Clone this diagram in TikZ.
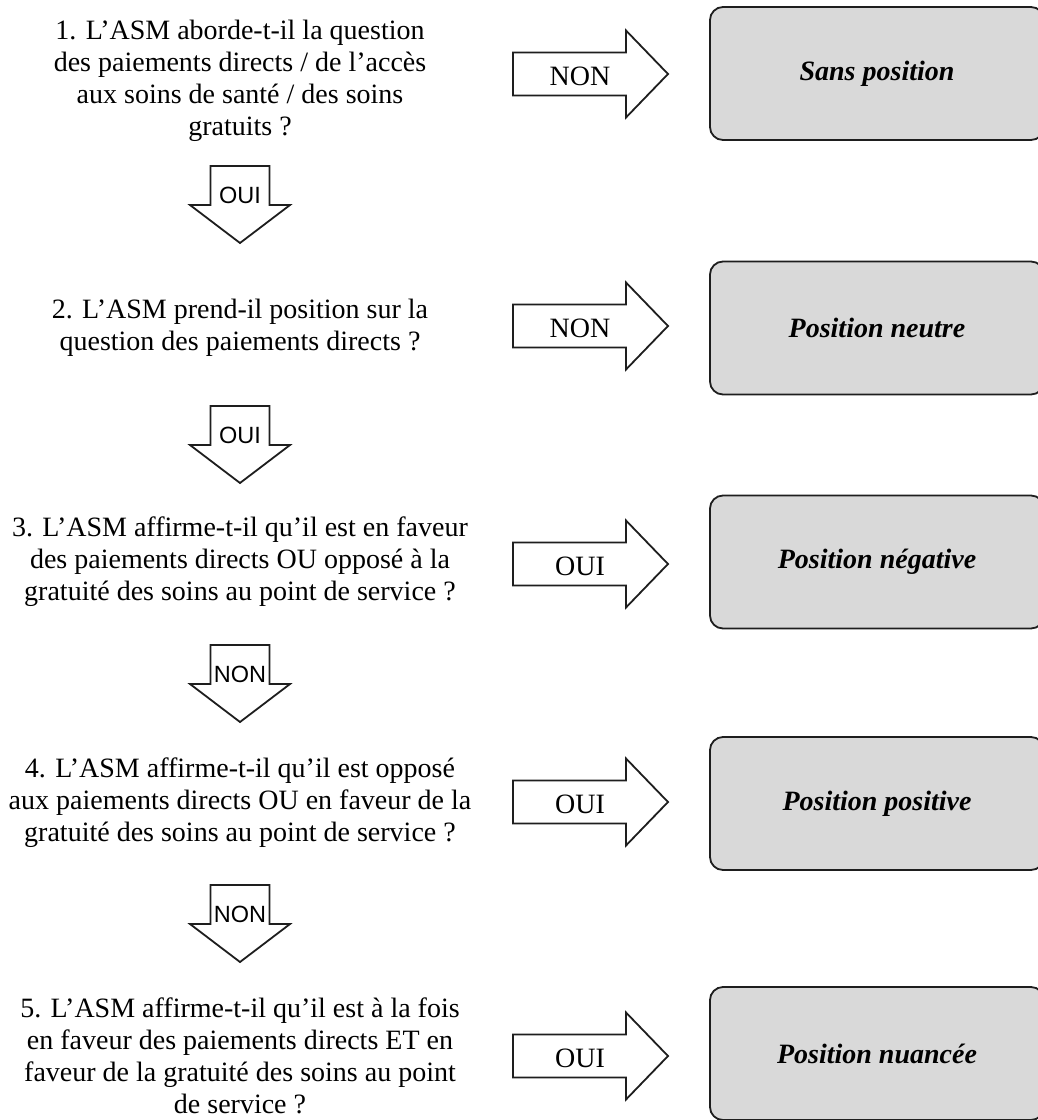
\documentclass[tikz,border=0pt]{standalone}
\usepackage{fontspec}
\setmainfont{Liberation Serif}
\setsansfont{Liberation Sans}
\definecolor{boxgray}{HTML}{D9D9D9}
\definecolor{edge}{HTML}{1E1E1E}
\begin{document}
\begin{tikzpicture}[x=1pt,y=-1pt,
  question/.style={font=\fontsize{28}{32}\selectfont, align=center, inner sep=0pt},
  result/.style={draw=edge, line width=1.8pt, fill=boxgray, rounded corners=13pt,
    minimum width=334pt, minimum height=133pt, inner sep=0pt,
    font=\fontsize{28}{34}\selectfont\bfseries\itshape},
  blockarrow/.style={draw=edge, line width=1.8pt, fill=white, line join=miter},
  rlabel/.style={font=\fontsize{28}{32}\selectfont, inner sep=0pt},
  dlabel/.style={font=\sffamily\fontsize{23.5}{27}\selectfont, inner sep=0pt}]
\useasboundingbox (0,0) rectangle (1037,1120);
\fill[white] (0,0) rectangle (1037,1120);

% questions
\node[question] (q1) at (240,81) {1. L’ASM aborde-t-il la question\\des paiements directs / de l’accès\\aux soins de santé / des soins\\gratuits~?};
\node[question] (q2) at (240,328) {2. L’ASM prend-il position sur la\\question des paiements directs~?};
\node[question] (q3) at (240,562) {3. L’ASM affirme-t-il qu’il est en faveur\\des paiements directs OU opposé à la\\gratuité des soins au point de service~?};
\node[question] (q4) at (240,803) {4. L’ASM affirme-t-il qu’il est opposé\\aux paiements directs OU en faveur de la\\gratuité des soins au point de service~?};
\node[question] (q5) at (240,1056) {5. L’ASM affirme-t-il qu’il est à la fois\\en faveur des paiements directs ET en\\faveur de la gratuité des soins au point\\de service~?};

% result boxes
\node[result] (b1) at (877,73.5) {Sans position};
\node[result] (b2) at (877,328) {Position neutre};
\node[result] (b3) at (877,562) {Position négative};
\node[result] (b4) at (877,803.5) {Position positive};
\node[result] (b5) at (877,1053.5) {Position nuancée};

% right block arrows
\foreach \y/\t/\n in {74/NON/r1, 326/NON/r2, 564/OUI/r3, 802/OUI/r4, 1056/OUI/r5} {
  \draw[blockarrow] (513,\y-21.5) -- (626,\y-21.5) -- (626,\y-43.5) -- (668,\y)
     -- (626,\y+43.5) -- (626,\y+21.5) -- (513,\y+21.5) -- cycle;
  \node[rlabel] (\n) at (580,\y+2.5) {\t};
}

% down block arrows
\foreach \t/\l/\n in {166/OUI/d1, 406/OUI/d2, 645/NON/d3, 885/NON/d4} {
  \draw[blockarrow] (210.5,\t) -- (269.5,\t) -- (269.5,\t+39) -- (290,\t+39)
     -- (240,\t+77) -- (190,\t+39) -- (210.5,\t+39) -- cycle;
  \node[dlabel] (\n) at (240,\t+29) {\l};
}
\end{tikzpicture}
\end{document}
